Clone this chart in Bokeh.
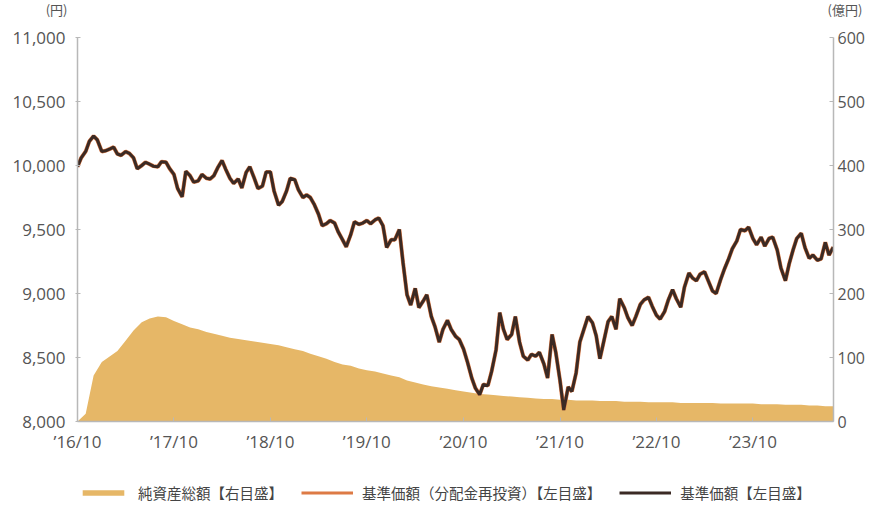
import pandas as pd
from bokeh.plotting import figure
from bokeh.layouts import column
from bokeh.models import (Range1d, LinearAxis, FixedTicker, NumeralTickFormatter,
                          Legend, LegendItem, ColumnDataSource)
from bokeh.embed import file_html
from bokeh.resources import INLINE

# ---------------- data ----------------
# 基準価額 (円), semi-monthly from 2016-10-01
price_start = "2016-10-01"
price_values = [
    9990, 10060, 10110, 10190, 10230, 10200, 10110, 10115, 10130, 10143,
    10090, 10080, 10108, 10095, 10060, 9975, 10000, 10025, 10010, 9995,
    9990, 10030, 10026, 9975, 9930, 9820, 9755, 9955, 9920, 9870,
    9880, 9930, 9900, 9895, 9920, 9980, 10039, 9970, 9900, 9860,
    9895, 9825, 9945, 9990, 9900, 9820, 9840, 9950, 9950, 9800,
    9690, 9720, 9800, 9900, 9890, 9810, 9750, 9770, 9750, 9700,
    9620, 9530, 9545, 9570, 9550, 9480, 9420, 9365, 9460, 9560,
    9540, 9550, 9570, 9545, 9575, 9590, 9530, 9360, 9420, 9420,
    9500, 9240, 8990, 8910, 9040, 8890, 8940, 8990, 8820, 8740,
    8620, 8720, 8790, 8720, 8665, 8640, 8565, 8470, 8340, 8260,
    8210, 8290, 8280, 8390, 8560, 8850, 8720, 8640, 8680, 8820,
    8620, 8510, 8480, 8525, 8510, 8540, 8450, 8340, 8680, 8540,
    8320, 8090, 8270, 8235, 8380, 8620, 8730, 8820, 8770, 8670,
    8490, 8620, 8780, 8820, 8720, 8960, 8890, 8810, 8750, 8820,
    8915, 8950, 8970, 8900, 8830, 8800, 8860, 8950, 9030, 8960,
    8893, 9050, 9160, 9120, 9100, 9150, 9170, 9100, 9020, 9000,
    9110, 9190, 9270, 9350, 9410, 9500, 9490, 9518, 9430, 9380,
    9440, 9370, 9430, 9440, 9340, 9200, 9100, 9230, 9340, 9430,
    9470, 9360, 9275, 9300, 9260, 9270, 9400, 9300,
]
price_end_date = "2024-07-31"
price_end_value = 9362

# 純資産総額 (億円), monthly from 2016-10-01
nav_start = "2016-10-01"
nav_values = [
    0, 12, 72, 93, 102, 110, 126, 142, 155, 161,
    164, 163, 157, 152, 147, 144, 140, 137, 134, 131,
    129, 127, 125, 123, 121, 119, 116, 113, 110, 106,
    102, 98, 93, 89, 87, 83, 80, 78, 75, 72,
    69, 64, 61, 58, 55, 53, 51, 49, 47, 45,
    43, 42, 41, 40, 39, 38, 37, 36, 35, 35,
    34, 34, 33, 33, 33, 32, 32, 32, 31, 31,
    31, 30, 30, 30, 30, 29, 29, 29, 29, 29,
    28, 28, 28, 28, 28, 27, 27, 27, 26, 26,
    26, 25, 25, 24,
]
nav_end_date = "2024-07-31"
nav_end_value = 24

x_tick_dates = ["2016-10-01", "2017-10-01", "2018-10-01", "2019-10-01",
                "2020-10-01", "2021-10-01", "2022-10-01", "2023-10-01"]
x_tick_labels = ["’16/10", "’17/10", "’18/10", "’19/10",
                 "’20/10", "’21/10", "’22/10", "’23/10"]
left_ticks = [8000, 8500, 9000, 9500, 10000, 10500, 11000]
right_ticks = [0, 100, 200, 300, 400, 500, 600]

legend_labels = ["純資産総額【右目盛】", "基準価額（分配金再投資）【左目盛】", "基準価額【左目盛】"]
unit_left = "(円)"
unit_right = "(億円)"

# ---------------- build sources ----------------
price_dates = list(pd.date_range(price_start, periods=len(price_values), freq="SMS")) + [pd.Timestamp(price_end_date)]
price_all = price_values + [price_end_value]
nav_dates = list(pd.date_range(nav_start, periods=len(nav_values), freq="MS")) + [pd.Timestamp(nav_end_date)]
nav_all = nav_values + [nav_end_value]

src_price = ColumnDataSource(dict(x=price_dates, y=price_all))
src_nav = ColumnDataSource(dict(x=nav_dates, y=nav_all, y0=[0] * len(nav_all)))

FILL = "#E6B767"
ORANGE = "#DD7A45"
DARK = "#3B2A24"
AXIS = "#b8b8b8"
TXT = "#555555"
FONT = "Open Sans"
JP = "Noto Sans CJK JP"
W = 871
BL, BR = 77, 38


def strip(height):
    f = figure(width=W, height=height, x_range=Range1d(0, 1), y_range=Range1d(0, height),
               output_backend="svg", toolbar_location=None,
               min_border_left=BL, min_border_right=BR, min_border_top=0, min_border_bottom=0,
               x_axis_type=None, y_axis_type=None)
    f.outline_line_color = None
    f.xgrid.visible = False
    f.ygrid.visible = False
    return f


def unit_axis(text, standoff):
    ax = LinearAxis(ticker=FixedTicker(ticks=[6]), major_label_overrides={6: text})
    ax.axis_line_color = None
    ax.major_tick_line_color = None
    ax.minor_tick_line_color = None
    ax.major_tick_in = 0
    ax.major_tick_out = 0
    ax.major_label_text_font = JP
    ax.major_label_text_font_size = "13px"
    ax.major_label_text_color = TXT
    ax.major_label_standoff = standoff
    return ax


# ---------------- top strip: unit labels ----------------
top = strip(22)
top.add_layout(unit_axis(unit_left, 10), "left")
top.add_layout(unit_axis(unit_right, -6), "right")

# ---------------- main chart ----------------
p = figure(width=W, height=433, x_axis_type="datetime",
           x_range=Range1d(pd.Timestamp("2016-10-01"), pd.Timestamp("2024-08-01")),
           y_range=Range1d(8000, 11000),
           output_backend="svg", toolbar_location=None,
           min_border_left=BL, min_border_top=15, min_border_right=BR, min_border_bottom=34)
p.extra_y_ranges = {"na": Range1d(0, 600)}
p.outline_line_color = None
p.xgrid.visible = False
p.ygrid.visible = False

p.varea(x="x", y1="y0", y2="y", source=src_nav, fill_color=FILL, y_range_name="na")
p.line(x="x", y="y", source=src_price, line_color=ORANGE, line_width=4.0)
p.line(x="x", y="y", source=src_price, line_color=DARK, line_width=3.0)

xa = p.xaxis[0]
tick_ms = [pd.Timestamp(d).timestamp() * 1000 for d in x_tick_dates]
xa.ticker = FixedTicker(ticks=tick_ms)
xa.major_label_overrides = {t: l for t, l in zip(tick_ms, x_tick_labels)}
xa.major_tick_in = 4
xa.major_tick_out = 0
xa.minor_tick_line_color = None
xa.axis_line_color = AXIS
xa.axis_line_width = 1.5
xa.major_tick_line_color = AXIS
xa.major_label_text_font = FONT
xa.major_label_text_font_size = "17px"
xa.major_label_text_color = TXT
xa.major_label_standoff = 8

ya = p.yaxis[0]
ya.ticker = FixedTicker(ticks=left_ticks)
ya.formatter = NumeralTickFormatter(format="0,0")
ya.major_tick_in = 3
ya.major_tick_out = 2
ya.minor_tick_line_color = None
ya.axis_line_color = AXIS
ya.axis_line_width = 1.5
ya.major_tick_line_color = AXIS
ya.major_label_text_font = FONT
ya.major_label_text_font_size = "17px"
ya.major_label_text_color = TXT
ya.major_label_standoff = 10

ra = LinearAxis(y_range_name="na", ticker=FixedTicker(ticks=right_ticks))
ra.major_tick_in = 4
ra.major_tick_out = 0
ra.minor_tick_line_color = None
ra.axis_line_color = AXIS
ra.axis_line_width = 1.5
ra.major_tick_line_color = AXIS
ra.major_label_text_font = FONT
ra.major_label_text_font_size = "16px"
ra.major_label_text_color = TXT
ra.major_label_standoff = 4
p.add_layout(ra, "right")

# ---------------- bottom strip: legend ----------------
bot = strip(52)
lg_nav = bot.varea(x=[-2, -1], y1=[-5, -5], y2=[-4, -4], fill_color=FILL)
lg_re = bot.line(x=[-2, -1], y=[-5, -5], line_color=ORANGE, line_width=3)
lg_px = bot.line(x=[-2, -1], y=[-5, -5], line_color=DARK, line_width=3)
legend = Legend(items=[LegendItem(label=legend_labels[0], renderers=[lg_nav]),
                       LegendItem(label=legend_labels[1], renderers=[lg_re]),
                       LegendItem(label=legend_labels[2], renderers=[lg_px])],
                orientation="horizontal", location=(0, 4),
                glyph_width=52, glyph_height=7, label_standoff=9, spacing=18,
                padding=0, margin=0, border_line_color=None, background_fill_alpha=0,
                label_text_font=JP, label_text_font_size="14.5px", label_text_color="#444444")
bot.add_layout(legend)

layout = column(top, p, bot, spacing=0)
open("out.html", "w").write(file_html(layout, INLINE))
